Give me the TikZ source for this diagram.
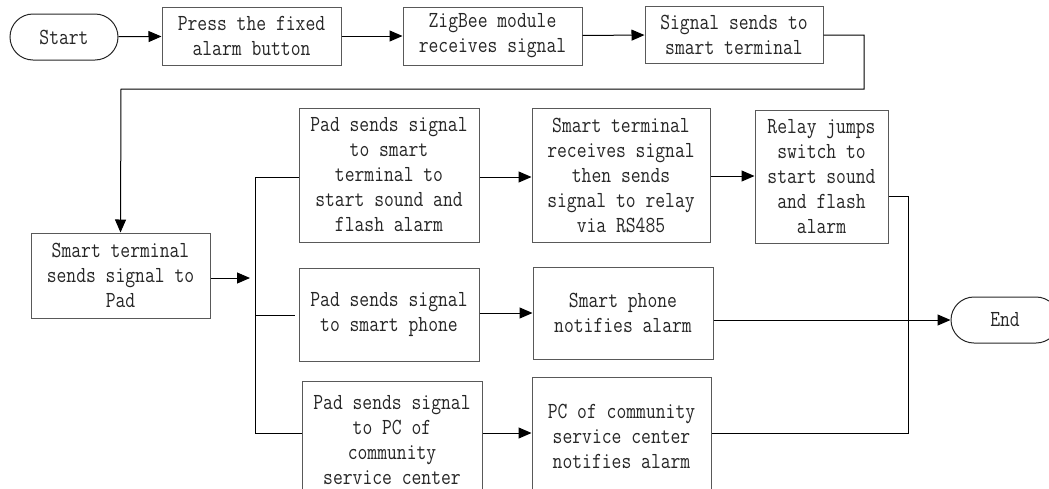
\documentclass[tikz,border=0pt]{standalone}
\usepackage{fontspec}
\newfontfamily\boxfont{Latin Modern Mono}[FakeStretch=0.83]
\usetikzlibrary{arrows.meta}
\begin{document}
\begin{tikzpicture}[x=1pt,y=-1pt,
  every node/.style={font=\fontsize{23}{25}\selectfont\boxfont, text=black!85},
  stepbox/.style={draw=black!65, line width=1pt, inner sep=0pt, align=center},
  term/.style={draw=black!85, line width=1pt, rounded corners=23pt, inner sep=0pt,
               minimum width=108pt, minimum height=46pt},
  link/.style={line width=1pt, black},
  arr/.style={link, -{Triangle[length=13pt,width=11pt]}},
]
\useasboundingbox (0,0) rectangle (1049,488);
\clip (0,0) rectangle (1049,488);

% terminals
\node[term] (start) at (64,37) {Start};
\node[term] (end) at (1005,320) {End};

% top row
\node[stepbox, minimum width=179pt, minimum height=58pt] (b1) at (251.5,36)
  {Press the fixed\\alarm button};
\node[stepbox, minimum width=179pt, minimum height=58pt] (b2) at (492.5,36)
  {ZigBee module\\receives signal};
\node[stepbox, minimum width=178pt, minimum height=57pt] (b3) at (734,34.5)
  {Signal sends to\\smart terminal};

% smart terminal to pad
\node[stepbox, minimum width=179pt, minimum height=85pt] (b4) at (120.5,275.5)
  {Smart terminal\\sends signal to\\Pad};

% sound and flash branch
\node[stepbox, minimum width=180pt, minimum height=134pt] (b5) at (389,175)
  {Pad sends signal\\to smart\\terminal to\\start sound and\\flash alarm};
\node[stepbox, minimum width=178pt, minimum height=134pt] (b6) at (621,175)
  {Smart terminal\\receives signal\\then sends\\signal to relay\\via RS485};
\node[stepbox, minimum width=133pt, minimum height=133pt] (b7) at (821.5,176.5)
  {Relay jumps\\switch to\\start sound\\and flash\\alarm};

% smart phone branch
\node[stepbox, minimum width=180pt, minimum height=93pt] (b8) at (389,314.5)
  {Pad sends signal\\to smart phone};
\node[stepbox, minimum width=180pt, minimum height=92pt] (b9) at (623,313)
  {Smart phone\\notifies alarm};

% community service center branch
\node[stepbox, minimum width=180pt, minimum height=118pt] (b10) at (392,440)
  {Pad sends signal\\to PC of\\community\\service center};
\node[stepbox, minimum width=179pt, minimum height=118pt] (b11) at (621.5,436)
  {PC of community\\service center\\notifies alarm};

% junction points
\coordinate (turnA) at (864,35);
\coordinate (turnB) at (121,89);
\coordinate (busTop) at (255,177);
\coordinate (busBot) at (255,433);
\coordinate (mergeTop) at (908,196);
\coordinate (mergeBot) at (908,433);

% top row arrows
\draw[arr] (start) -- (b1);
\draw[arr] (b1) -- (b2);
\draw[arr] (b2) -- (b3);
\draw[arr] (b3.east |- turnA) -- (turnA) |- (turnB) -- (b4.north);

% fan out from the pad
\draw[arr] (b4.east |- 0,278) -- (250,278);
\draw[link] (b5.west |- busTop) -- (busTop) -- (busBot) -- (b10.west |- busBot);
\draw[link] (255,315) -- (295,315);

% branch arrows
\draw[arr] (b5.east |- busTop) -- (b6.west |- busTop);
\draw[arr] (b6.east |- 0,176) -- (b7.west |- 0,176);
\draw[arr] (b8.east |- 0,313) -- (b9.west |- 0,313);
\draw[arr] (b10.east |- busBot) -- (b11.west |- busBot);

% merge into end
\draw[link] (b7.east |- mergeTop) -- (mergeTop) -- (mergeBot) -- (b11.east |- mergeBot);
\draw[arr] (b9.east |- end.west) -- (end.west);
\end{tikzpicture}
\end{document}
